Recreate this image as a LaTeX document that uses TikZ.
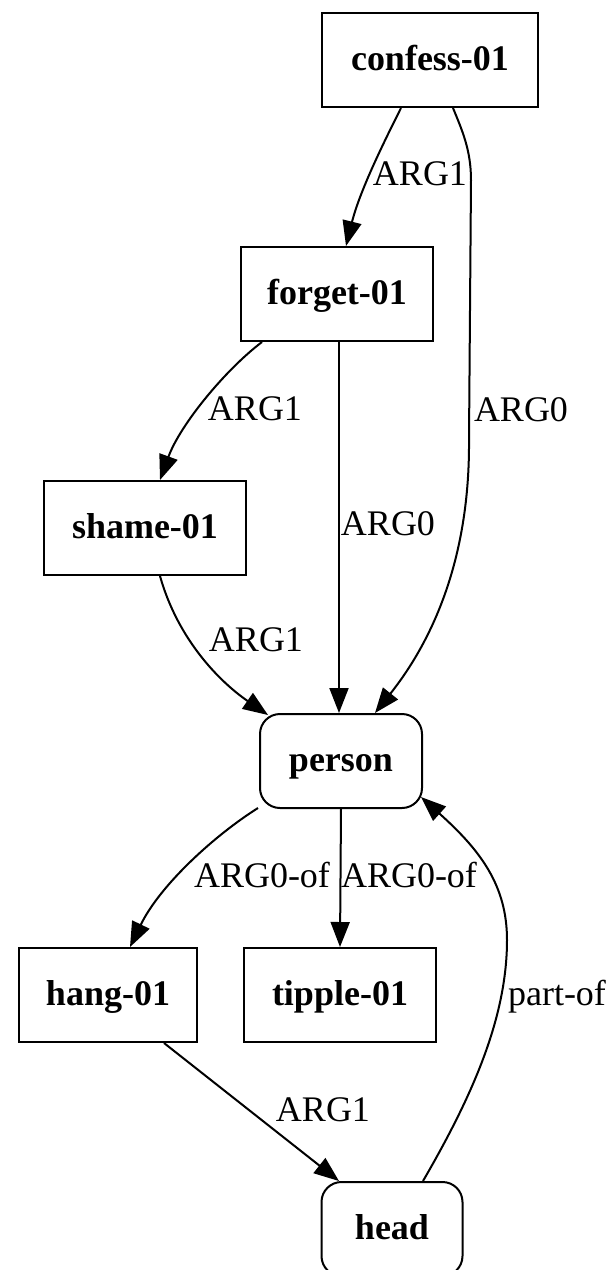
\documentclass[tikz,border=0pt]{standalone}
\usepackage{fontspec}
\setmainfont{Liberation Serif}
\usetikzlibrary{arrows.meta}
\begin{document}
\begin{tikzpicture}[x=1pt,y=-1pt,
  concept/.style={draw, line width=2pt, inner sep=0pt, minimum height=94pt,
    text height=21pt, text depth=0pt,
    font=\fontsize{36}{43}\selectfont\bfseries},
  entity/.style={concept, rounded corners=20pt},
  rel/.style={draw, line width=2pt, -{Triangle[length=25pt,width=19pt]}},
  lbl/.style={inner sep=0pt, text height=21pt, text depth=0pt,
    font=\fontsize{36}{43}\selectfont}]
\useasboundingbox (0,0) rectangle (610,1270);

% concepts
\node[concept, minimum width=216pt] (confess) at (430,60)  {confess-01};
\node[concept, minimum width=192pt] (forget)  at (337,294) {forget-01};
\node[concept, minimum width=202pt] (shame)   at (145,528) {shame-01};
\node[entity,  minimum width=162pt] (person)  at (341,761) {person};
\node[concept, minimum width=178pt] (hang)    at (108,995) {hang-01};
\node[concept, minimum width=192pt] (tipple)  at (340,995) {tipple-01};
\node[entity,  minimum width=141pt] (head)    at (392,1229) {head};

% relations
\draw[rel] ([xshift=-29pt]confess.south) .. controls (385,140) and (360,190) .. ([xshift=9pt]forget.north);
\node[lbl] (l1) at (420,175) {ARG1};

\draw[rel] ([xshift=23pt]confess.south) .. controls (462,130) and (471,150) .. (471,180)
  -- (469,440) .. controls (470,570) and (425,650) .. ([xshift=34pt]person.north);
\node[lbl] (l2) at (521,411) {ARG0};

\draw[rel] ([xshift=22pt]forget.south west) .. controls (225,370) and (180,425) .. ([xshift=15pt]shame.north);
\node[lbl] (l3) at (255,410) {ARG1};

\draw[rel] ([xshift=2pt]forget.south) -- ([xshift=-2pt]person.north);
\node[lbl] (l4) at (388,525) {ARG0};

\draw[rel] ([xshift=15pt]shame.south) .. controls (178,640) and (220,682) .. ([xshift=9pt,yshift=-2pt]person.north west);
\node[lbl] (l5) at (256,641) {ARG1};

\draw[rel] ([xshift=-1pt,yshift=1pt]person.south west) .. controls (215,835) and (160,885) .. ([xshift=22pt]hang.north);
\node[lbl] (l6) at (262,877) {ARG0-of};

\draw[rel] (person.south) -- (tipple.north);
\node[lbl] (l7) at (409,877) {ARG0-of};

\draw[rel] ([xshift=56pt]hang.south) -- ([xshift=-53pt]head.north);
\node[lbl] (l8) at (323,1111) {ARG1};

\draw[rel] ([xshift=31pt]head.north) .. controls (470,1100) and (507,1020) .. (507,940)
  .. controls (507,885) and (480,850) .. ([xshift=-2pt,yshift=12pt]person.south east);
\node[lbl] (l9) at (557,995) {part-of};
\end{tikzpicture}
\end{document}
